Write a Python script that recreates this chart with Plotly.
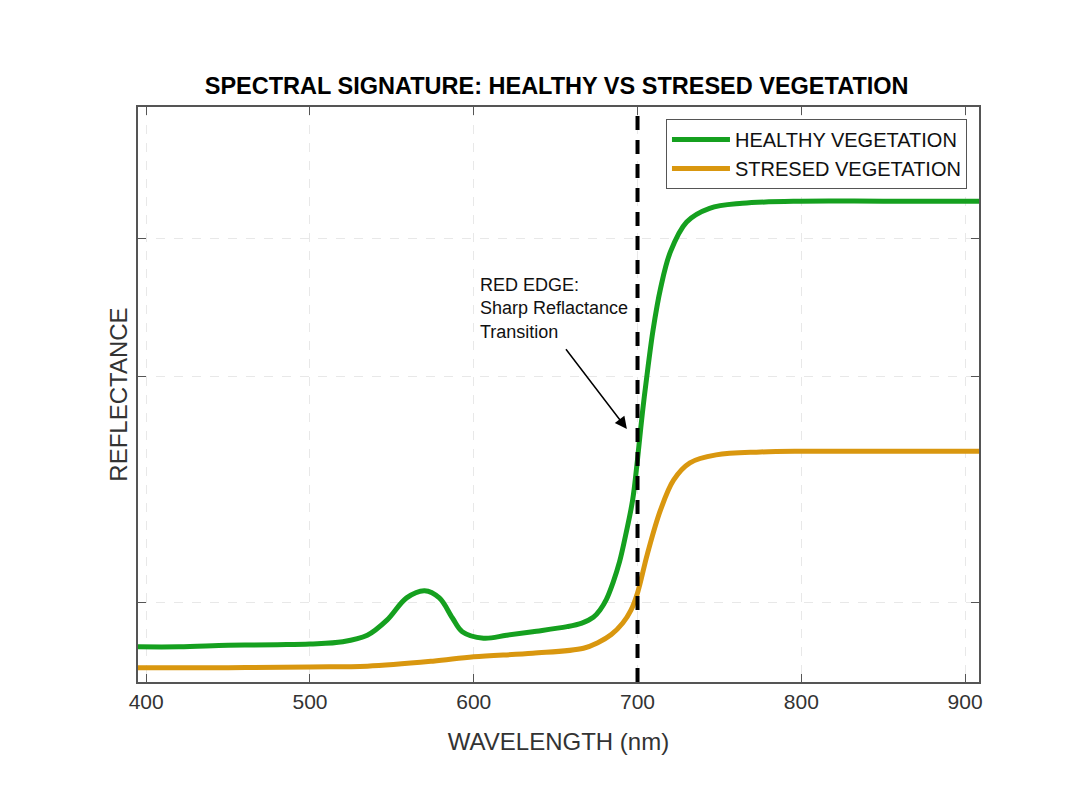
import plotly.graph_objects as go

# Wavelength (nm) / reflectance
healthy_wl = [395, 420, 450, 480, 500, 520, 535, 547, 559, 570, 579, 587, 593, 606,
              620, 636, 657, 666, 673, 677, 681, 685, 689, 693, 697, 700, 703, 706.5,
              709.5, 714, 720, 730, 744, 764, 800, 850, 908.5]
healthy_refl = [0.049, 0.049, 0.051, 0.052, 0.053, 0.056, 0.065, 0.086, 0.117, 0.127,
                0.117, 0.089, 0.070, 0.061, 0.065, 0.070, 0.077, 0.082, 0.090, 0.100,
                0.115, 0.138, 0.167, 0.207, 0.253, 0.310, 0.375, 0.440, 0.490, 0.547,
                0.598, 0.640, 0.659, 0.666, 0.669, 0.669, 0.669]

stressed_wl = [395, 450, 500, 535, 575, 600, 636, 667, 676, 684, 691, 696, 700, 706,
               714, 722, 732, 748, 775, 800, 850, 908.5]
stressed_refl = [0.020, 0.020, 0.021, 0.022, 0.029, 0.035, 0.040, 0.047, 0.055, 0.066,
                 0.082, 0.100, 0.124, 0.178, 0.239, 0.281, 0.305, 0.316, 0.320, 0.321,
                 0.321, 0.321]

x_ticks = [400, 500, 600, 700, 800, 900]
y_ticks = [0.11, 0.425, 0.617]
red_edge = 700

GREEN = "#15a01f"
ORANGE = "#d9970f"
FONT = "Liberation Sans, Arial, sans-serif"

fig = go.Figure()
fig.add_trace(go.Scatter(x=healthy_wl, y=healthy_refl, mode="lines",
                         name="HEALTHY VEGETATION",
                         line=dict(color=GREEN, width=5, shape="spline", smoothing=1.0)))
fig.add_trace(go.Scatter(x=stressed_wl, y=stressed_refl, mode="lines",
                         name="STRESED VEGETATION",
                         line=dict(color=ORANGE, width=5, shape="spline", smoothing=1.0)))

# red edge marker
fig.add_shape(type="line", x0=red_edge, x1=red_edge, y0=0, y1=1, xref="x", yref="paper",
              line=dict(color="black", width=4, dash="14px,10px"))

# arrow pointing at the red edge
fig.add_annotation(x=693.5, y=0.352, ax=655.6, ay=0.465, axref="x", ayref="y",
                   xref="x", yref="y", text="", showarrow=True,
                   arrowhead=2, arrowsize=1.6, arrowwidth=1.5, arrowcolor="black")
fig.add_annotation(x=0.404, y=0.650, xref="paper", yref="paper", xanchor="left",
                   yanchor="middle", align="left", showarrow=False,
                   text="RED EDGE:<br>Sharp Reflactance<br>Transition",
                   font=dict(family=FONT, size=18, color="#111"))

axis_common = dict(showline=True, linecolor="#555", linewidth=1.5, mirror="ticks",
                   ticks="inside", ticklen=8, tickcolor="#555",
                   showgrid=True, gridcolor="#e8e8e8", griddash="dash", gridwidth=1,
                   zeroline=False)

fig.update_layout(
    width=1080, height=810,
    paper_bgcolor="white", plot_bgcolor="white",
    margin=dict(l=130, r=109, t=99, b=136),
    title=dict(text="<b>SPECTRAL SIGNATURE: HEALTHY VS STRESED VEGETATION</b>",
               x=0.508, xanchor="center", y=0.904, yanchor="middle",
               font=dict(family=FONT, size=23.5, color="black")),
    xaxis=dict(range=[395, 908.5], tickvals=x_ticks,
               tickfont=dict(family=FONT, size=21, color="#333"),
               title=dict(text="WAVELENGTH (nm)", standoff=21,
                          font=dict(family=FONT, size=24, color="#333")),
               **axis_common),
    yaxis=dict(range=[0, 0.8], tickvals=y_ticks, showticklabels=False,
               title=dict(text="REFLECTANCE", standoff=2,
                          font=dict(family=FONT, size=24, color="#333")),
               **axis_common),
    legend=dict(x=0.9857, xanchor="right", y=0.979, yanchor="top",
                bgcolor="white", bordercolor="#555", borderwidth=1,
                font=dict(family=FONT, size=20, color="#111"),
                tracegroupgap=0, itemwidth=58),
    showlegend=True,
)

fig.write_html("out.html")
